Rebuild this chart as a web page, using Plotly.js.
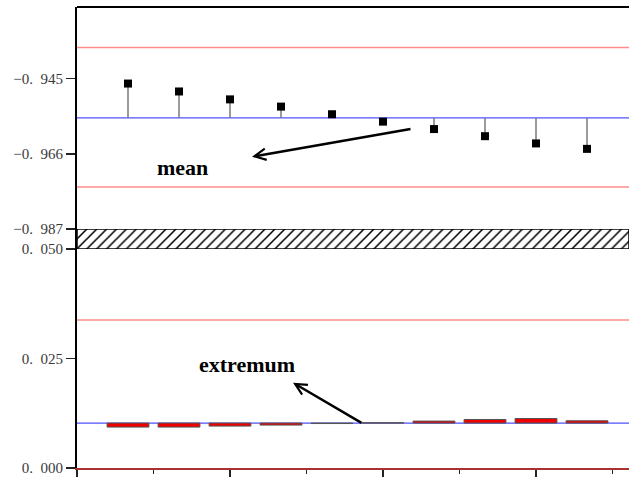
<!DOCTYPE html>
<html>
<head>
<meta charset="utf-8">
<script src="https://cdn.plot.ly/plotly-3.0.1.min.js"></script>
<style>html,body{margin:0;padding:0;background:#fff;}#chart{width:629px;height:477px;}</style>
</head>
<body>
<div id="chart"></div>
<script>
// ---- data ----
const samples = [1, 2, 3, 4, 5, 6, 7, 8, 9, 10];
const meanValues = [-0.94638, -0.94859, -0.95080, -0.95282, -0.95495, -0.95702, -0.95909, -0.96108, -0.96310, -0.96462];
const meanCenter = -0.95597;
const meanUpper = -0.93630;
const meanLower = -0.97530;
const extremumValues = [0.00934, 0.00934, 0.00957, 0.00980, 0.01015, 0.01032, 0.01071, 0.01108, 0.01130, 0.01078];
const extremumCenter = 0.01026;
const extremumUpper = 0.03380;
const topTickVals = [-0.945, -0.966, -0.987];
const topTickText = ['\u22120.\u2002945', '\u22120.\u2002966', '\u22120.\u2002987'];
const bottomTickVals = [0, 0.025, 0.05];
const bottomTickText = ['0.\u2002000', '0.\u2002025', '0.\u2002050'];
const labels = ['mean', 'extremum'];

// ---- layout helpers ----
const W = 629, H = 477, mL = 77, mR = 0, mT = 7, mB = 9;
const pw = W - mL - mR, ph = H - mT - mB;
const px = x => (x - mL) / pw;
const py = y => (H - mB - y) / ph;
const xMax = pw / 51;
const topDom = [py(229), 1];
const bandDom = [py(249), py(229)];
const botDom = [0, py(249)];

const serif = 'Liberation Serif';

const stems = {
  x: samples, y: meanValues, xaxis: 'x', yaxis: 'y2',
  type: 'scatter', mode: 'markers',
  marker: {symbol: 'square', size: 8, color: '#000'},
  error_y: {
    type: 'data', symmetric: false,
    array: meanValues.map(v => v < meanCenter ? meanCenter - v : 0),
    arrayminus: meanValues.map(v => v > meanCenter ? v - meanCenter : 0),
    color: '#7a7a7a', thickness: 1.5, width: 0
  },
  hoverinfo: 'x+y', showlegend: false
};

const bars = {
  x: samples, y: extremumValues.map(v => v - extremumCenter), base: extremumCenter,
  xaxis: 'x', yaxis: 'y', type: 'bar', width: 0.82,
  marker: {color: '#f00000', line: {color: '#555', width: 1}},
  showlegend: false
};

const band = {
  x: [xMax / 2], y: [1], width: [xMax], base: 0, xaxis: 'x', yaxis: 'y3', type: 'bar',
  marker: {color: '#fff', line: {color: '#000', width: 1.5},
    pattern: {shape: '/', fgcolor: '#000', bgcolor: '#fff', size: 7, solidity: 0.22}},
  hoverinfo: 'skip', showlegend: false
};

const hline = (yref, y, color, w) => ({type: 'line', xref: 'paper', x0: 0, x1: 1, yref: yref, y0: y, y1: y,
  line: {color: color, width: w}, layer: 'below'});

const yCommon = {showline: true, linecolor: '#000', linewidth: 2, ticks: 'outside', ticklen: 9, tickwidth: 1.5,
  tickcolor: '#222', showgrid: false, zeroline: false, anchor: 'x',
  tickfont: {family: serif, size: 15, color: '#3a3a3a'}};

const layout = {
  width: W, height: H,
  margin: {l: mL, r: mR, t: mT, b: mB, pad: 0},
  paper_bgcolor: '#fff', plot_bgcolor: '#fff',
  barmode: 'overlay', bargap: 0,
  xaxis: {domain: [0, 1], range: [0, xMax], anchor: 'y', showline: true, linecolor: '#a83232', linewidth: 2,
    ticks: 'outside', ticklen: 10, tickwidth: 1.5, tickcolor: '#222', tick0: 0, dtick: 3,
    minor: {ticks: 'outside', ticklen: 4, tickwidth: 1.5, tickcolor: '#222', tick0: 0, dtick: 1.5},
    showticklabels: false, showgrid: false, zeroline: false},
  yaxis: Object.assign({}, yCommon, {domain: botDom, range: [0, 0.05], tickvals: bottomTickVals, ticktext: bottomTickText}),
  yaxis2: Object.assign({}, yCommon, {domain: topDom, range: [-0.987, -0.925], tickvals: topTickVals, ticktext: topTickText}),
  yaxis3: {domain: bandDom, range: [0, 1], anchor: 'x', showline: true, linecolor: '#000', linewidth: 2,
    ticks: '', showticklabels: false, showgrid: false, zeroline: false},
  shapes: [
    hline('y2', meanUpper, '#ff8c8c', 1.5),
    hline('y2', meanLower, '#ff8c8c', 1.5),
    hline('y2', meanCenter, '#5050ff', 1.2),
    hline('y', extremumUpper, '#ff8c8c', 1.5),
    hline('y', extremumCenter, '#5050ff', 1.2),
    {type: 'line', xref: 'paper', yref: 'paper', x0: 0, x1: 1, y0: 1, y1: 1, line: {color: '#000', width: 2}}
  ],
  annotations: [
    {xref: 'paper', yref: 'paper', x: px(182), y: py(167), xanchor: 'center', yanchor: 'middle',
      text: '<b>' + labels[0] + '</b>', showarrow: false, font: {family: serif, size: 22, color: '#000'}},
    {xref: 'paper', yref: 'paper', x: px(252), y: py(156.7), text: '', showarrow: true, arrowhead: 5,
      arrowsize: 0.9, arrowwidth: 2.5, arrowcolor: '#000', ax: 160, ay: -28},
    {xref: 'paper', yref: 'paper', x: px(247), y: py(364), xanchor: 'center', yanchor: 'middle',
      text: '<b>' + labels[1] + '</b>', showarrow: false, font: {family: serif, size: 22, color: '#000'}},
    {xref: 'paper', yref: 'paper', x: px(293), y: py(382.7), text: '', showarrow: true, arrowhead: 5,
      arrowsize: 0.9, arrowwidth: 2.5, arrowcolor: '#000', ax: 70, ay: 41}
  ]
};

Plotly.newPlot('chart', [band, bars, stems], layout, {displayModeBar: false, staticPlot: true});
</script>
</body>
</html>
